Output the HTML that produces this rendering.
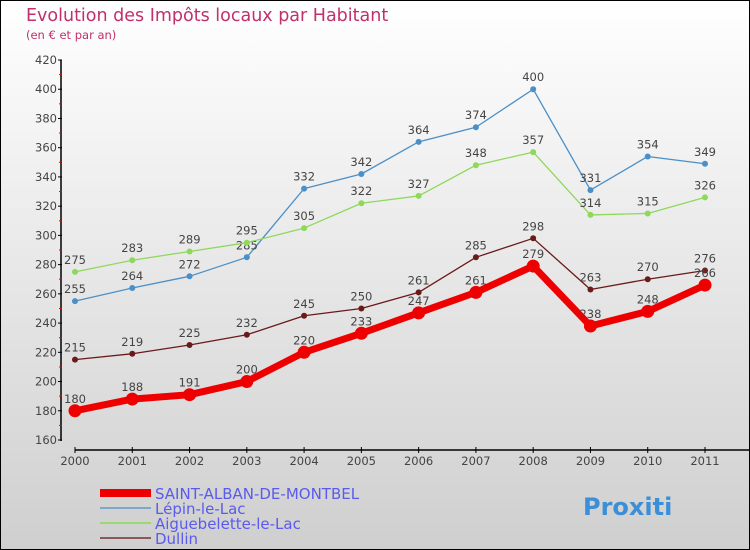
<!DOCTYPE html>
<html><head><meta charset="utf-8"><style>
body{margin:0;}
#c{position:relative;width:750px;height:550px;overflow:hidden;font-family:"DejaVu Sans","Liberation Sans",sans-serif;}
</style></head><body>
<div id="c">
<svg id="s" width="750" height="550" xmlns="http://www.w3.org/2000/svg">
<defs><linearGradient id="bg" x1="0" y1="0" x2="0" y2="1"><stop offset="0" stop-color="#ffffff"/><stop offset="1" stop-color="#cfcfcf"/></linearGradient></defs>
<rect x="0.5" y="0.5" width="749" height="549" fill="url(#bg)" stroke="#000"/>
<text x="26" y="21" font-size="17.5" fill="#c0306a">Evolution des Impôts locaux par Habitant</text>
<text x="26" y="39" font-size="11.5" fill="#c0306a">(en € et par an)</text>
<g id="axes"></g><g id="series"></g><g id="legend"></g>
</svg></div>
<script>
const years=["2000","2001","2002","2003","2004","2005","2006","2007","2008","2009","2010","2011"];
const yTicks=[160,180,200,220,240,260,280,300,320,340,360,380,400,420];
const saint=[180,188,191,200,220,233,247,261,279,238,248,266];
const lepin=[255,264,272,285,332,342,364,374,400,331,354,349];
const aigue=[275,283,289,295,305,322,327,348,357,314,315,326];
const dullin=[215,219,225,232,245,250,261,285,298,263,270,276];
const NS="http://www.w3.org/2000/svg";
function X(i){return 75+i*630/11;}
function Y(v){return 60+(420-v)*380/260;}
function mk(tag,attrs,parent,txt){const e=document.createElementNS(NS,tag);for(const k in attrs)e.setAttribute(k,attrs[k]);if(txt!==undefined)e.textContent=txt;parent.appendChild(e);return e;}
const ax=document.getElementById('axes');
let yl=mk('line',{x1:61,y1:60,x2:61,y2:441,stroke:'#000','stroke-width':1.5},ax);


yTicks.forEach((t,i)=>{
  mk('line',{x1:58,x2:62,y1:Y(t),y2:Y(t),stroke:'#000','stroke-width':1},ax);
  if(i<yTicks.length-1)mk('line',{x1:59,x2:62,y1:Y(t+10),y2:Y(t+10),stroke:'#e00','stroke-width':1},ax);
  const tl=mk('text',{x:57,y:Y(t)+4,'font-size':11.5,'text-anchor':'end',fill:'#444'},ax,String(t));
  
  
});
let xl=mk('line',{x1:75,y1:450,x2:750,y2:450,stroke:'#000','stroke-width':1.5},ax);


years.forEach((y,i)=>{
  mk('line',{x1:X(i),x2:X(i),y1:447,y2:453,stroke:'#000','stroke-width':1},ax);
  const tl=mk('text',{x:X(i),y:465,'font-size':11.5,'text-anchor':'middle',fill:'#444'},ax,y);
  
  
});
const ser=document.getElementById('series');
function draw(vals,color,w,r,name){
  const g=mk('g',{},ser);
  
  
  const pts=vals.map((v,i)=>X(i)+','+Y(v)).join(' ');
  mk('polyline',{points:pts,fill:'none',stroke:color,'stroke-width':w,'stroke-linejoin':'round'},g);
  vals.forEach((v,i)=>{
    const c=mk('circle',{cx:X(i),cy:Y(v),r:r,fill:color},g);
    
    
    const t=mk('text',{x:X(i),y:Y(v)-8,'font-size':11.5,'text-anchor':'middle',fill:'#444'},g,String(v));
    
    
  });
}
draw(lepin,'#4a8fc8',1.3,3,'lepin');
draw(aigue,'#8ed85a',1.3,3,'aiguebelette');
draw(dullin,'#6b1a1a',1.3,3,'dullin');
draw(saint,'#ee0000',7,6.5,'saint-alban');
const lg=document.getElementById('legend');
const items=[["SAINT-ALBAN-DE-MONTBEL","#ee0000",8],["Lépin-le-Lac","#7fa8c8",2],["Aiguebelette-le-Lac","#9ad870",2],["Dullin","#8a5a5a",2]];
items.forEach((it,i)=>{
  const y=493+i*15;
  const l=mk('line',{x1:100,x2:151,y1:y,y2:y,stroke:it[1],'stroke-width':it[2]},lg);
  
  
  const t=mk('text',{x:155,y:y+6,'font-size':15,fill:'#5a5aee'},lg,it[0]);
  
  
});
const p=mk('text',{x:583,y:515,'font-size':24,'font-weight':'bold',fill:'#3a8fd8'},lg,'Proxiti');


</script>
</body></html>
